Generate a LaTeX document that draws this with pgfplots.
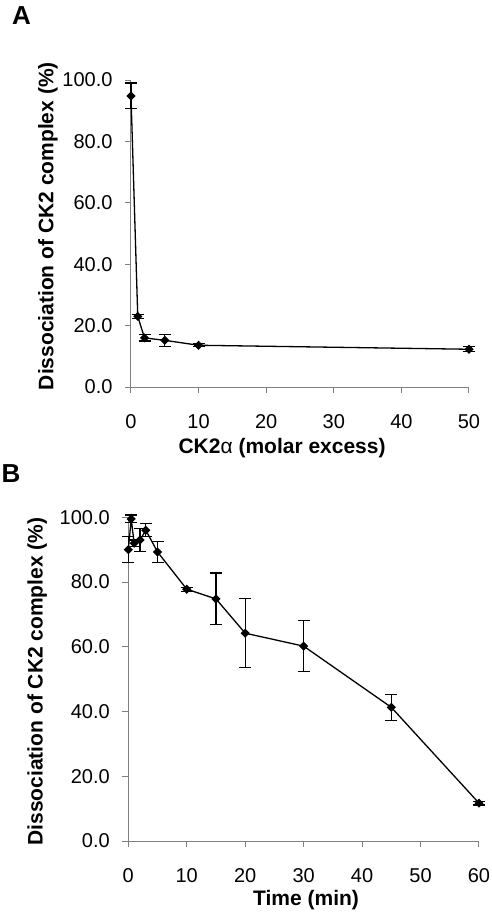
\documentclass[border=0pt]{standalone}
\usepackage{fontspec}
\setmainfont{Liberation Sans}
\usepackage{pgfplots}
\pgfplotsset{compat=1.18}
\definecolor{axgray}{RGB}{128,128,128}
\pgfplotsset{
  myax/.style={
    scale only axis, clip=false, enlargelimits=false,
    axis x line*=bottom, axis y line*=left,
    axis line style={axgray, line width=1pt, -},
    every tick/.style={axgray, line width=1pt},
    tick align=outside, major tick length=6pt,
    ymin=0, ymax=100, ytick={0,20,...,100},
    /pgf/number format/assume math mode=true,
    yticklabel style={/pgf/number format/fixed, /pgf/number format/fixed zerofill, /pgf/number format/precision=1,
      font=\fontsize{20}{24}\selectfont, text=black, xshift=-9pt},
    xticklabel style={font=\fontsize{20}{24}\selectfont, text=black, yshift=-18pt},
    label style={font=\bfseries\fontsize{21}{25}\selectfont},
  },
  myplot/.style={
    black, line width=1.3pt, mark=square*, mark size=2.6pt,
    mark options={rotate=45, fill=black, solid},
    error bars/.cd, y dir=both, y explicit,
    error bar style={line width=1.2pt, black},
    error mark options={rotate=90, mark size=6pt, line width=1.2pt, black}
  }
}
\begin{document}
\begin{tikzpicture}
\useasboundingbox (0pt,0pt) rectangle (492pt,-914pt);
\node[font=\bfseries\fontsize{26}{30}\selectfont] at (21.5pt,-15.5pt) {A};
\node[font=\bfseries\fontsize{26}{30}\selectfont] at (11pt,-474pt) {B};
\begin{axis}[myax,
  at={(131pt,-387pt)}, anchor=south west,
  width=338pt, height=307pt,
  xmin=0, xmax=50, xtick={0,10,...,50},
  xlabel={CK2{\mdseries α} (molar excess)},
  ylabel={Dissociation of CK2 complex (\%)},
  xlabel style={at={(axis description cs:0.447,-0.199)}, anchor=center},
  ylabel style={at={(axis description cs:-0.2456,0.524)}, anchor=center},
]
\addplot[myplot] coordinates {
  (0,94.8) +- (0,4.2)
  (1,23.0) +- (0,0.6)
  (2,16.0) +- (0,1.0)
  (5,15.2) +- (0,2.0)
  (10,13.6) +- (0,0.5)
  (50,12.3) +- (0,0.8)
};
\end{axis}
\begin{axis}[myax,
  at={(128.3pt,-841pt)}, anchor=south west,
  width=350.7pt, height=323.7pt,
  xmin=0, xmax=60, xtick={0,10,...,60},
  xlabel={Time (min)},
  ylabel={Dissociation of CK2 complex (\%)},
  xlabel style={at={(axis description cs:0.507,-0.182)}, anchor=center},
  ylabel style={at={(axis description cs:-0.260,0.493)}, anchor=center},
]
\addplot[myplot] coordinates {
  (0,90.0) +- (0,4.0)
  (0.5,99.5) +- (0,1.2)
  (1,92.0) +- (0,1.0)
  (2,93.0) +- (0,3.5)
  (3,96.0) +- (0,2.0)
  (5,89.3) +- (0,3.3)
  (10,77.8) +- (0,0.6)
  (15,74.8) +- (0,8.0)
  (20,64.2) +- (0,10.7)
  (30,60.2) +- (0,7.8)
  (45,41.3) +- (0,4.0)
  (60,11.7) +- (0,0.6)
};
\end{axis}
\end{tikzpicture}
\end{document}
